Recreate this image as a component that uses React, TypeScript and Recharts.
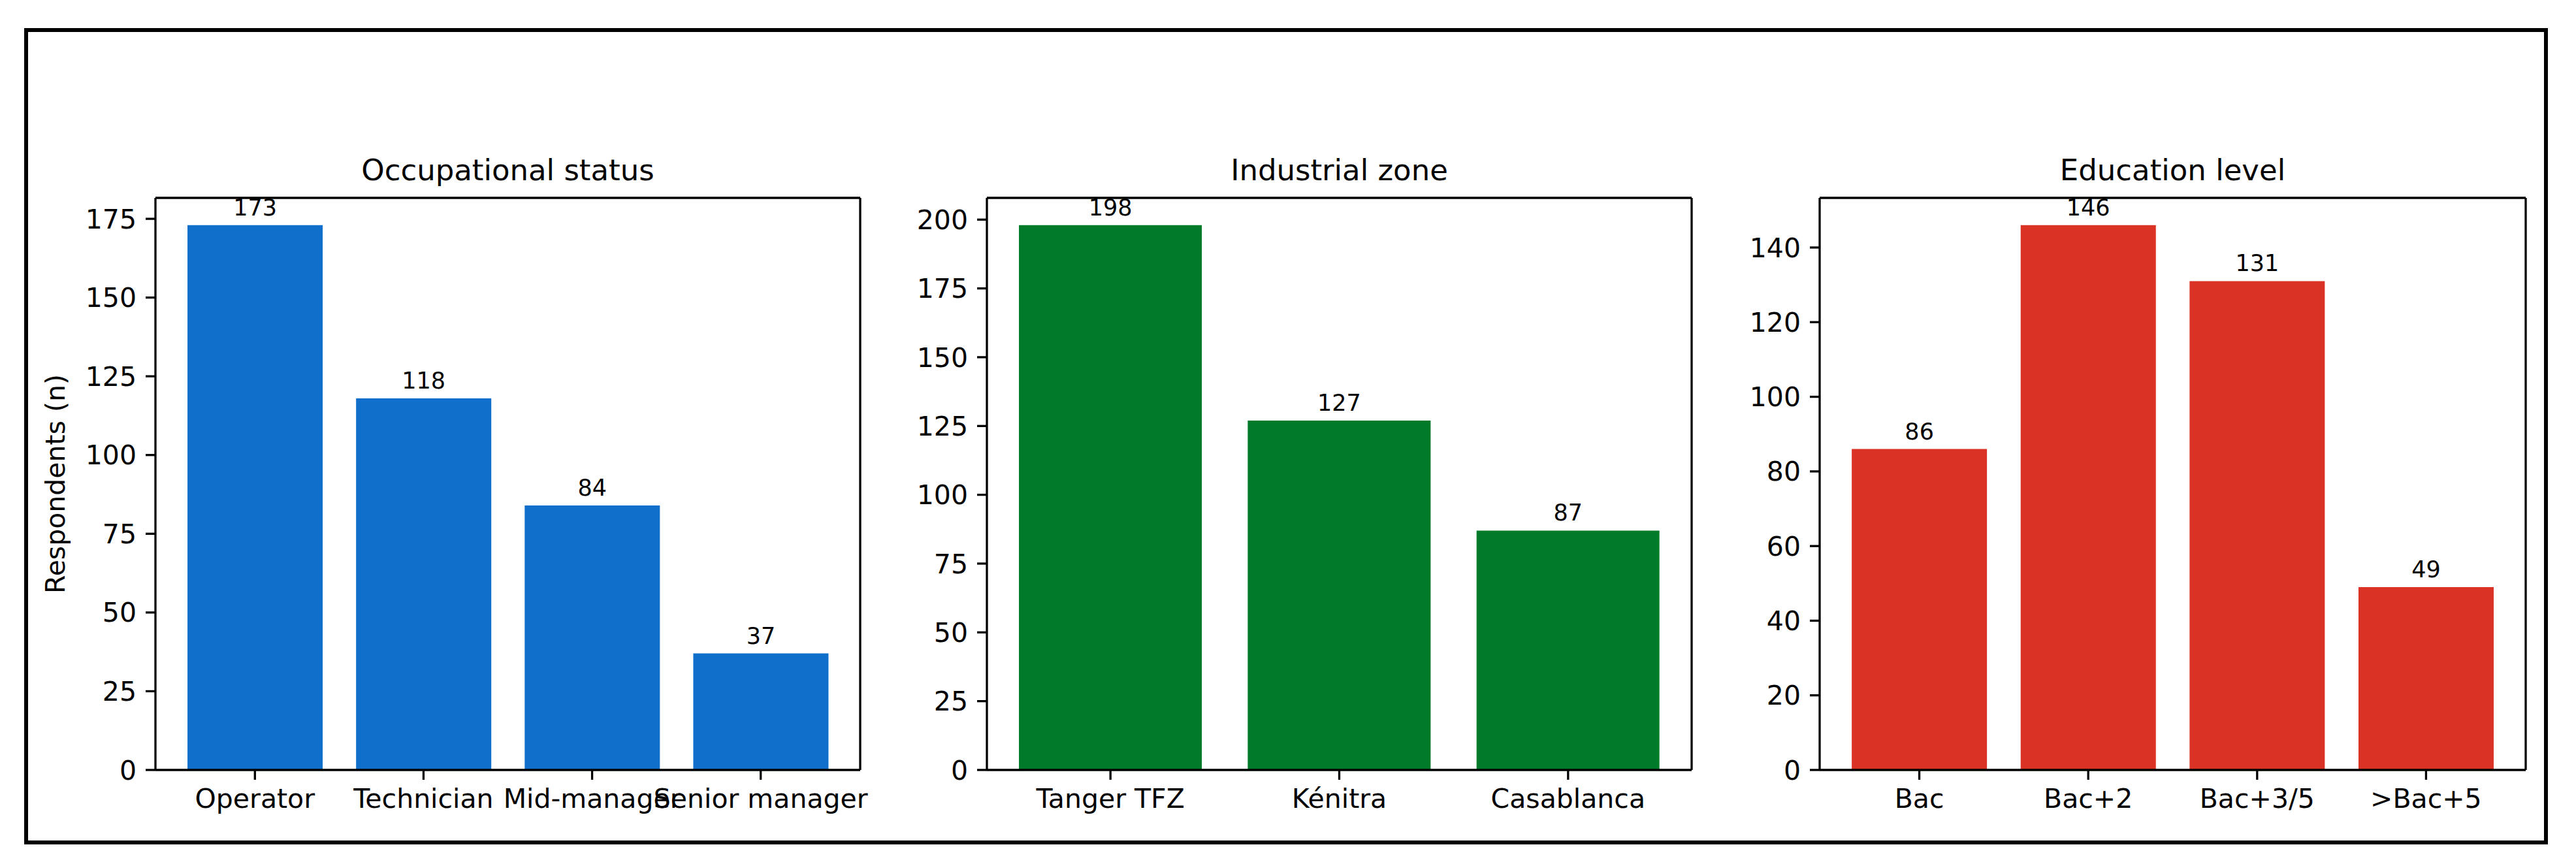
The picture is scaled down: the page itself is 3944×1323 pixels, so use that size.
import React from "react";
import { BarChart, Bar, XAxis, YAxis, LabelList, Label } from "recharts";

const occCategories = ["Operator", "Technician", "Mid-manager", "Senior manager"];
const occValues = [173, 118, 84, 37];
const occTicks = [0, 25, 50, 75, 100, 125, 150, 175];

const zoneCategories = ["Tanger TFZ", "Kénitra", "Casablanca"];
const zoneValues = [198, 127, 87];
const zoneTicks = [0, 25, 50, 75, 100, 125, 150, 175, 200];

const eduCategories = ["Bac", "Bac+2", "Bac+3/5", ">Bac+5"];
const eduValues = [86, 146, 131, 49];
const eduTicks = [0, 20, 40, 60, 80, 100, 120, 140];

const FIG_H = 1323;
const AX_TOP = 303;
const AX_BOTTOM = 1179;
const YAXIS_W = 238;
const XAXIS_H = 80;
const FONT = "DejaVu Sans";

type PanelProps = {
  title: string;
  categories: string[];
  values: number[];
  ticks: number[];
  color: string;
  axLeft: number;
  axWidth: number;
  yLabel?: string;
};

function Panel({ title, categories, values, ticks, color, axLeft, axWidth, yLabel }: PanelProps) {
  const data = categories.map((c, i) => ({ name: c, value: values[i] }));
  const n = categories.length;
  // matplotlib-like x margins: bars width 0.8, 5% margins
  const unit = axWidth / ((n - 0.2) * 1.1);
  const edgeToCenter = (0.4 + 0.05 * (n - 0.2)) * unit;
  const pad = edgeToCenter - unit / 2;
  const width = YAXIS_W + axWidth + 21;
  const ymax = Math.max(...values) * 1.05;
  return (
    <div style={{ position: "absolute", left: axLeft - YAXIS_W, top: 0 }}>
      <BarChart
        width={width}
        height={FIG_H}
        data={data}
        margin={{ top: AX_TOP - 1, right: 20, bottom: FIG_H - AX_BOTTOM - XAXIS_H, left: 0 }}
        barCategoryGap="10%"
        style={{ fontFamily: FONT }}
      >
        <XAxis
          dataKey="name"
          interval={0}
          height={XAXIS_H}
          padding={{ left: pad, right: pad }}
          tick={{ fill: "#000", fontSize: 41 }}
          tickSize={15}
          tickMargin={14}
          stroke="#000"
          strokeWidth={3.3}
          axisLine={{ stroke: "#000", strokeWidth: 3.3 }}
          tickLine={{ stroke: "#000", strokeWidth: 3.3 }}
        />
        <XAxis
          xAxisId="top"
          dataKey="name"
          orientation="top"
          height={1}
          tick={false}
          tickLine={false}
          axisLine={{ stroke: "#000", strokeWidth: 3.3 }}
        >
          <Label value={title} position="top" offset={26} fill="#000" fontSize={45} />
        </XAxis>
        <YAxis
          width={YAXIS_W}
          domain={[0, ymax]}
          ticks={ticks}
          allowDataOverflow
          tick={{ fill: "#000", fontSize: 41 }}
          tickSize={15}
          tickMargin={14}
          axisLine={{ stroke: "#000", strokeWidth: 3.3 }}
          tickLine={{ stroke: "#000", strokeWidth: 3.3 }}
        >
          {yLabel ? (
            <Label
              content={() => (
                <text
                  x={85}
                  y={(AX_TOP + AX_BOTTOM) / 2}
                  transform={`rotate(-90 85 ${(AX_TOP + AX_BOTTOM) / 2})`}
                  textAnchor="middle"
                  dominantBaseline="central"
                  fill="#000"
                  fontSize={41}
                >
                  {yLabel}
                </text>
              )}
            />
          ) : null}
        </YAxis>
        <YAxis
          yAxisId="right"
          orientation="right"
          width={1}
          domain={[0, ymax]}
          tick={false}
          tickLine={false}
          axisLine={{ stroke: "#000", strokeWidth: 3.3 }}
        />
        <Bar dataKey="value" fill={color} isAnimationActive={false}>
          <LabelList dataKey="value" position="top" offset={15} fill="#000" fontSize={35} />
        </Bar>
      </BarChart>
    </div>
  );
}

export default function App() {
  return (
    <div style={{ position: "relative", width: 3944, height: FIG_H, background: "#fff", fontFamily: FONT }}>
      <style>{`body{margin:0;background:#fff}`}</style>
      <div
        style={{
          position: "absolute",
          left: 37,
          top: 43,
          width: 3864,
          height: 1250,
          border: "6px solid #000",
          boxSizing: "border-box",
        }}
      />
      <Panel
        title="Occupational status"
        categories={occCategories}
        values={occValues}
        ticks={occTicks}
        color="#0f6fcb"
        axLeft={238}
        axWidth={1079}
        yLabel="Respondents (n)"
      />
      <Panel
        title="Industrial zone"
        categories={zoneCategories}
        values={zoneValues}
        ticks={zoneTicks}
        color="#017b29"
        axLeft={1511}
        axWidth={1079}
      />
      <Panel
        title="Education level"
        categories={eduCategories}
        values={eduValues}
        ticks={eduTicks}
        color="#db3226"
        axLeft={2786}
        axWidth={1081}
      />
    </div>
  );
}
